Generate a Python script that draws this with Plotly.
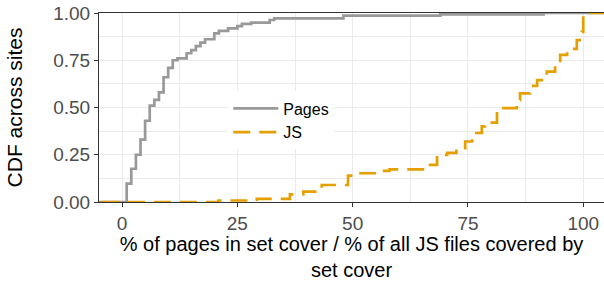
import plotly.graph_objects as go

# Pages: step positions (% of pages in set cover) and CDF after each step
pages_x = [1, 2, 3, 4, 5, 6, 7, 8, 9, 10, 11, 12, 14, 15, 16, 17, 18, 20, 21,
           23, 25, 26, 28, 32, 33, 48, 69, 91.4]
pages_y = [0.097, 0.176, 0.25, 0.33, 0.43, 0.51, 0.54, 0.58, 0.66, 0.71, 0.75,
           0.76, 0.787, 0.804, 0.825, 0.843, 0.861, 0.892, 0.905, 0.919, 0.931,
           0.942, 0.949, 0.963, 0.972, 0.986, 0.993, 1.0]

# JS: step positions (% of all JS files covered) and CDF after each step
js_x = [20.9, 27.3, 29.2, 36.4, 39.3, 43.3, 49.0, 51.2, 56.5, 58.0, 66.8, 68.3,
        70.5, 72.5, 74.4, 75.9, 78.0, 78.7, 81.3, 82.7, 85.6, 86.3, 88.5, 90.0,
        92.1, 93.9, 95.0, 96.5, 98.6, 99.7, 100.0]
js_y = [0.008, 0.012, 0.017, 0.04, 0.055, 0.09, 0.14, 0.152, 0.165, 0.173,
        0.196, 0.249, 0.26, 0.285, 0.32, 0.365, 0.40, 0.42, 0.478, 0.497, 0.54,
        0.575, 0.614, 0.645, 0.69, 0.734, 0.778, 0.81, 0.857, 0.90, 1.0]

x_ticks = [0, 25, 50, 75, 100]
y_ticks = [0, 0.25, 0.5, 0.75, 1.0]
y_ticktext = ["0.00", "0.25", "0.50", "0.75", "1.00"]

FONT = "Liberation Sans, Arial, sans-serif"

fig = go.Figure()
fig.add_trace(go.Scatter(
    x=[-10] + pages_x + [110], y=[0] + pages_y + [1.0],
    mode="lines", line_shape="hv", name="Pages",
    line=dict(color="#999999", width=2.7)))
fig.add_trace(go.Scatter(
    x=[-10] + js_x + [110], y=[0] + js_y + [1.0],
    mode="lines", line_shape="hv", name="JS",
    line=dict(color="#E69F00", width=2.7, dash="17px,9px")))

axis_common = dict(
    showline=True, linecolor="#333333", linewidth=1.1,
    ticks="outside", ticklen=4, tickwidth=1.1, tickcolor="#333333",
    showgrid=True, gridcolor="#EBEBEB", gridwidth=1.1, zeroline=False,
    tickfont=dict(family=FONT, size=19, color="#4D4D4D"),
    automargin=False,
)

fig.update_layout(
    width=604, height=281,
    margin=dict(l=99, r=0, t=13, b=79),
    paper_bgcolor="white", plot_bgcolor="white",
    font=dict(family=FONT, color="black"),
    xaxis=dict(
        range=[-5, 104.5], tickvals=x_ticks, mirror=True,
        minor=dict(showgrid=True, dtick=12.5, tick0=0, gridcolor="#EBEBEB", gridwidth=0.6),
        title=dict(text="% of pages in set cover / % of all JS files covered by<br>set cover",
                   font=dict(family=FONT, size=20, color="black"), standoff=7),
        **axis_common),
    yaxis=dict(
        range=[0, 1], tickvals=y_ticks, ticktext=y_ticktext,
        minor=dict(showgrid=True, dtick=0.125, tick0=0, gridcolor="#EBEBEB", gridwidth=0.6),
        title=dict(text="CDF across sites",
                   font=dict(family=FONT, size=21, color="black"), standoff=24),
        **axis_common),
    legend=dict(x=0.256, y=0.585, xanchor="left", yanchor="top",
                bgcolor="white", font=dict(family=FONT, size=16, color="black"),
                tracegroupgap=0, itemwidth=45),
    showlegend=True,
)

fig.write_html("out.html", config={"displayModeBar": False},
               post_script="document.body.style.margin='0';document.body.style.overflow='hidden';")
